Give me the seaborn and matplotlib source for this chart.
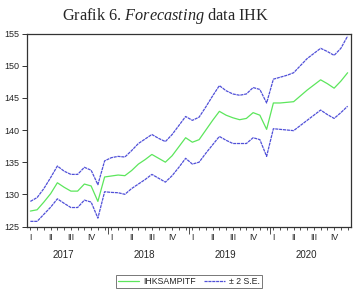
import numpy as np
import pandas as pd
import matplotlib
matplotlib.use("Agg")
import matplotlib.pyplot as plt
import seaborn as sns
from matplotlib.lines import Line2D

# ---- data ----
years = ["2017", "2018", "2019", "2020"]
quarters = ["I", "II", "III", "IV"]
y_ticks = [125, 130, 135, 140, 145, 150, 155]

forecast = [127.4, 127.6, 128.8, 130.1, 131.8, 131.1, 130.5, 130.5, 131.6, 131.3, 128.9, 132.7,
            132.85, 133.0, 132.9, 133.7, 134.7, 135.4, 136.2, 135.6, 135.0, 136.0, 137.4, 138.8,
            138.1, 138.5, 140.0, 141.5, 142.9, 142.3, 141.9, 141.6, 141.8, 142.7, 142.3, 140.1,
            144.2, 144.2, 144.3, 144.4, 145.3, 146.2, 147.0, 147.8, 147.2, 146.5, 147.6, 148.9]
upper = [128.9, 129.5, 130.9, 132.6, 134.4, 133.6, 133.1, 133.1, 134.2, 133.75, 131.5, 135.2,
         135.7, 135.9, 135.8, 136.8, 137.9, 138.6, 139.3, 138.7, 138.2, 139.3, 140.7, 142.1,
         141.5, 142.0, 143.6, 145.3, 146.9, 146.1, 145.6, 145.4, 145.6, 146.6, 146.3, 144.2,
         147.9, 148.2, 148.5, 148.9, 150.0, 151.1, 151.9, 152.7, 152.2, 151.6, 152.7, 154.6]
lower = [125.8, 125.8, 126.9, 128.0, 129.3, 128.6, 127.95, 127.95, 129.1, 128.8, 126.3, 130.4,
         130.3, 130.25, 130.0, 130.9, 131.6, 132.3, 133.1, 132.5, 131.9, 132.9, 134.2, 135.6,
         134.7, 135.0, 136.4, 137.7, 139.0, 138.4, 137.9, 137.9, 137.9, 138.8, 138.5, 135.9,
         140.2, 140.1, 140.0, 139.9, 140.7, 141.5, 142.3, 143.1, 142.4, 141.8, 142.7, 143.7]

green = "#5ce65c"
blue = "#5050d8"

sns.set_style("white")
plt.rcParams['font.family'] = ['Liberation Sans', 'DejaVu Sans']
plt.rcParams['mathtext.fontset'] = 'custom'
plt.rcParams['mathtext.rm'] = 'Liberation Serif'
plt.rcParams['mathtext.it'] = 'Liberation Serif:italic'

W, H = 355, 289
fig = plt.figure(figsize=(W / 100, H / 100), dpi=100)
ax = fig.add_axes([27 / W, 1 - 226.5 / H, (351 - 27) / W, (226.5 - 33.5) / H])

t = np.arange(len(forecast))
df = pd.DataFrame({"t": t, "IHKSAMPITF": forecast, "upper": upper, "lower": lower})

sns.lineplot(data=df, x="t", y="upper", ax=ax, color=blue, linewidth=0.9)
sns.lineplot(data=df, x="t", y="lower", ax=ax, color=blue, linewidth=0.9)
sns.lineplot(data=df, x="t", y="IHKSAMPITF", ax=ax, color=green, linewidth=0.9)
for ln in ax.lines[:2]:
    ln.set_dashes((2.5, 0.6))

ax.set_xlim(-0.5, len(forecast) - 0.5)
ax.set_ylim(125, 155)
ax.set_xlabel("")
ax.set_ylabel("")

for s in ax.spines.values():
    s.set_color("#333333")
    s.set_linewidth(0.9)

ax.set_yticks(y_ticks)
ax.set_yticklabels([str(v) for v in y_ticks])
ax.tick_params(axis="y", left=True, length=3.5, width=0.7, pad=2, labelsize=6.5, color="#333333")

q_pos = [12 * i + 3 * j for i in range(len(years)) for j in range(4)]
q_lab = [q for _ in years for q in quarters]
ax.set_xticks(q_pos)
ax.set_xticklabels(q_lab)
ax.set_xticks(t, minor=True)
ax.tick_params(axis="x", which="both", bottom=True, length=2.5, width=0.6, pad=2.5,
               labelsize=6.3, color="#333333")

# longer year-boundary ticks
sec = ax.secondary_xaxis("bottom")
sec.set_xticks([12 * i - 0.5 for i in range(1, len(years))])
sec.set_xticklabels([])
sec.tick_params(length=5, width=0.6, color="#333333")
sec.spines["bottom"].set_visible(False)

# year labels
sec2 = ax.secondary_xaxis("bottom")
sec2.set_xticks([12 * i + 4.9 for i in range(len(years))])
sec2.set_xticklabels(years)
sec2.tick_params(length=0, pad=17, labelsize=7)
sec2.spines["bottom"].set_visible(False)

# title
fig.text(62 / W, 1 - 20 / H, r"Grafik 6. $\mathit{Forecasting}$ data IHK",
         family="Liberation Serif", fontsize=11.7, ha="left", va="baseline")

handles = [Line2D([], [], color=green, lw=0.9),
           Line2D([], [], color=blue, lw=0.9, dashes=(2.5, 0.6))]
leg = fig.legend(handles, ["IHKSAMPITF", "± 2 S.E."], loc="center",
                 bbox_to_anchor=(189 / W, 1 - 281.5 / H), ncol=2, fontsize=6.3,
                 frameon=True, fancybox=False, edgecolor="#555555", handlelength=2.4,
                 columnspacing=0.9, handletextpad=0.5, borderpad=0.25)
leg.get_frame().set_linewidth(0.7)

fig.savefig("out.png", dpi=100)
